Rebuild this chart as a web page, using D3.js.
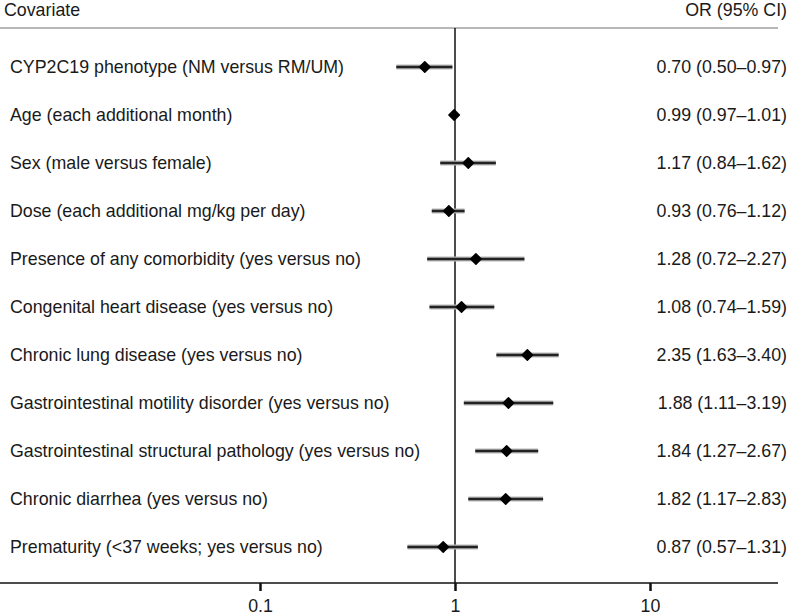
<!DOCTYPE html>
<html>
<head>
<meta charset="utf-8">
<script src="https://cdn.jsdelivr.net/npm/d3@7"></script>
<style>
  body { margin: 0; background: #fff; }
  text { font-family: "Liberation Sans", Arial, sans-serif; fill: #1a1a1a; }
</style>
</head>
<body>
<div id="chart"></div>
<script>
const covariates = [
    "CYP2C19 phenotype (NM versus RM/UM)",
    "Age (each additional month)",
    "Sex (male versus female)",
    "Dose (each additional mg/kg per day)",
    "Presence of any comorbidity (yes versus no)",
    "Congenital heart disease (yes versus no)",
    "Chronic lung disease (yes versus no)",
    "Gastrointestinal motility disorder (yes versus no)",
    "Gastrointestinal structural pathology (yes versus no)",
    "Chronic diarrhea (yes versus no)",
    "Prematurity (<37 weeks; yes versus no)"
];
const oddsRatio = [0.70, 0.99, 1.17, 0.93, 1.28, 1.08, 2.35, 1.88, 1.84, 1.82, 0.87];
const ciLower  = [0.50, 0.97, 0.84, 0.76, 0.72, 0.74, 1.63, 1.11, 1.27, 1.17, 0.57];
const ciUpper  = [0.97, 1.01, 1.62, 1.12, 2.27, 1.59, 3.40, 3.19, 2.67, 2.83, 1.31];
const tickValues = [0.1, 1, 10];
const tickLabels = ["0.1", "1", "10"];

const width = 800, height = 615;
const headerY = 28, axisY = 583;
const fontSize = "17.8px";

const svg = d3.select("#chart").append("svg")
    .attr("width", width)
    .attr("height", height);

const x = d3.scaleLog()
    .domain([Math.pow(10, -455 / 195), Math.pow(10, 325 / 195)])
    .range([0, 780]);

const y = d3.scalePoint()
    .domain(covariates)
    .range([67, 547]);

const fmt = d3.format(".2f");

// header
svg.append("text")
    .attr("x", 4).attr("y", 16)
    .style("font-size", fontSize)
    .text("Covariate");
svg.append("text")
    .attr("x", 787).attr("y", 16)
    .attr("text-anchor", "end")
    .style("font-size", fontSize)
    .text("OR (95% CI)");
svg.append("line")
    .attr("x1", 0).attr("x2", 778)
    .attr("y1", headerY).attr("y2", headerY)
    .attr("stroke", "#a0a0a0")
    .attr("stroke-width", 1.5);

// reference line at OR = 1
svg.append("line")
    .attr("x1", x(1)).attr("x2", x(1))
    .attr("y1", headerY).attr("y2", axisY)
    .attr("stroke", "#111")
    .attr("stroke-width", 1.5);

// axis
const axis = svg.append("g")
    .attr("transform", `translate(0,${axisY})`)
    .call(d3.axisBottom(x)
        .tickValues(tickValues)
        .tickFormat((d, i) => tickLabels[i])
        .tickSize(8)
        .tickPadding(8));
axis.select(".domain").remove();
axis.insert("line", ":first-child")
    .attr("x1", 0).attr("x2", 778)
    .attr("stroke", "#111")
    .attr("stroke-width", 1.5);
axis.selectAll(".tick line").attr("stroke", "#111").attr("stroke-width", 2.5);
axis.selectAll(".tick text")
    .style("font-size", fontSize)
    .style("font-family", "Liberation Sans, Arial, sans-serif")
    .attr("fill", "#1a1a1a");

const rows = svg.selectAll("g.row")
    .data(covariates.map((c, i) => ({ c, or: oddsRatio[i], lo: ciLower[i], hi: ciUpper[i] })))
    .enter().append("g")
    .attr("class", "row")
    .attr("transform", d => `translate(0,${y(d.c)})`);

rows.append("text")
    .attr("x", 10).attr("dy", "0.35em")
    .style("font-size", fontSize)
    .text(d => d.c);

rows.append("text")
    .attr("x", 787).attr("dy", "0.35em")
    .attr("text-anchor", "end")
    .style("font-size", fontSize)
    .text(d => `${fmt(d.or)} (${fmt(d.lo)}\u2013${fmt(d.hi)})`);

// CI halo + line
rows.append("line")
    .attr("x1", d => x(d.lo)).attr("x2", d => x(d.hi))
    .attr("stroke", "#b8b8b8")
    .attr("stroke-width", 5);
rows.append("line")
    .attr("x1", d => x(d.lo)).attr("x2", d => x(d.hi))
    .attr("stroke", "#222")
    .attr("stroke-width", 2.5);

rows.append("path")
    .attr("d", d3.symbol().type(d3.symbolSquare).size(55))
    .attr("transform", d => `translate(${x(d.or)},0) rotate(45)`)
    .attr("fill", "#000")
    .attr("stroke", "#000")
    .attr("stroke-width", 1.5)
    .attr("stroke-linejoin", "round");
</script>
</body>
</html>
